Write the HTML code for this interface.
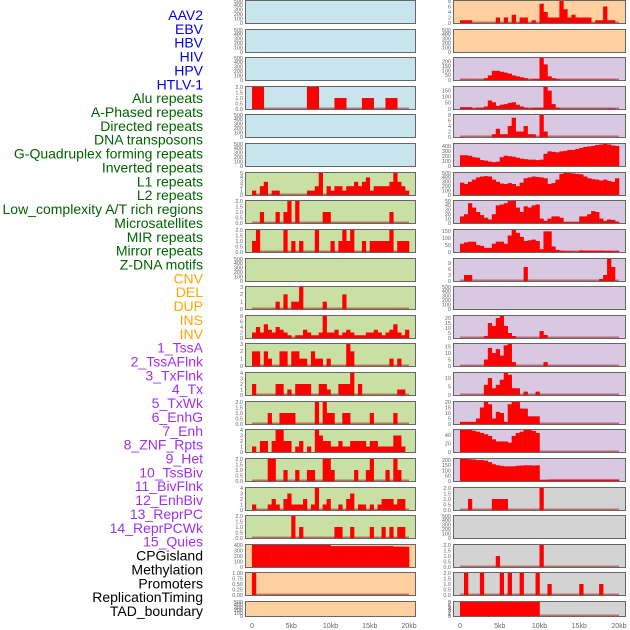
<!DOCTYPE html>
<html><head><meta charset="utf-8"><style>
html,body{margin:0;padding:0;background:#fff;}
svg{display:block;font-family:"Liberation Sans",sans-serif;}
</style></head><body>
<svg id="chart" width="630" height="630" viewBox="0 0 630 630" xmlns="http://www.w3.org/2000/svg"></svg>
<script>
// ---------- DATA ----------
const trackNames = ["AAV2","EBV","HBV","HIV","HPV","HTLV-1","Alu repeats","A-Phased repeats","Directed repeats","DNA transposons","G-Quadruplex forming repeats","Inverted repeats","L1 repeats","L2 repeats","Low_complexity A/T rich regions","Microsatellites","MIR repeats","Mirror repeats","Z-DNA motifs","CNV","DEL","DUP","INS","INV","1_TssA","2_TssAFlnk","3_TxFlnk","4_Tx","5_TxWk","6_EnhG","7_Enh","8_ZNF_Rpts","9_Het","10_TssBiv","11_BivFlnk","12_EnhBiv","13_ReprPC","14_ReprPCWk","15_Quies","CPGisland","Methylation","Promoters","ReplicationTiming","TAD_boundary"];
const trackGroups = ["virus","virus","virus","virus","virus","virus","rep","rep","rep","rep","rep","rep","rep","rep","rep","rep","rep","rep","rep","sv","sv","sv","sv","sv","chr","chr","chr","chr","chr","chr","chr","chr","chr","chr","chr","chr","chr","chr","chr","oth","oth","oth","oth","oth"];
const xTickLabels = ["0","5kb","10kb","15kb","20kb"];
const xTickValues = [0,5,10,15,20];
const empty500 = [0,100,200,300,400,500];
const yTicks = [
 empty500,empty500,empty500,[0,0.5,1,1.5,2],empty500,empty500,
 [0,1,2,3,4,5],[0,0.5,1,1.5,2],[0,0.5,1,1.5,2],empty500,[0,1,2,3],[0,2,4,6,8],[0,1,2,3],[0,1,2,3,4],[0,0.5,1,1.5,2],[0,1,2,3,4],[0,0.5,1,1.5,2],[0,1,2,3,4],[0,0.5,1,1.5,2],
 [0,100,200,300,400],[0,0.25,0.5,0.75,1],empty500,
 [0,2,4,6,8],empty500,[0,50,100,150,200],[0,50,100,150],[0,2,4,6,8],[0,100,200,300,400],[0,100,200,300,400,500],[0,10,20,30,40,50],[0,50,100,150],[0,3,6,9],empty500,[0,5,10,15,20],[0,5,10,15],[0,5,10],[0,5,10,15,20],[0,20,40],[0,50,100,150,200],
 [0,0.5,1,1.5,2],empty500,[0,0.5,1,1.5,2],[0,0.5,1,1.5,2],[0,1,2,3,4,5,6,7,8]
];
// values per 0.5kb bin (bin index: value)
const vHIV = {0:2,1:2,2:2,14:2,15:2,16:2,21:1,22:1,23:1,28:1,29:1,30:1,34:1,35:1,36:1};
const vAlu = [1,0,2,3,0,1,1,0,0,0,0,0,0,0,1,1,2,5,0,2,1,2,2,1,2,2,3,2,3,4,1,2,2,2,2,3,5,3,2,1];
const vAPhased = {2:1,6:1,8:1,9:2,11:2,18:1,19:1,35:1};
const vDirected = {0:1,1:2,8:2,10:1,12:1,16:2,20:1,22:1,23:2,24:1,25:2,28:1,30:1,31:1,32:1,33:1,34:1,35:2,37:1,38:1,39:1};
const vGQuad = {6:1,8:2,10:1,11:1,12:3,18:1,23:2};
const vInverted = [2,4,2,5,3,2,4,3,2,1,0,1,1,3,2,1,1,2,8,2,2,3,1,2,3,2,1,1,1,2,2,3,2,1,2,3,5,2,1,3];
const vL1 = {0:2,1:2,3:2,4:1,7:2,8:2,10:2,11:2,12:1,13:1,15:2,16:1,17:1,19:1,24:3,25:2,35:1,37:1};
const vL2 = {0:2,6:2,7:2,9:1,11:2,12:2,13:2,14:2,17:2,18:2,19:1,22:2,23:2,24:2,25:4,27:2,37:1,38:1};
const vLowComp = {4:1,7:1,8:1,9:1,10:1,16:2,18:2,19:1,20:1,23:1,24:1,30:1,36:1};
const vMicrosat = {0:1,2:2,3:2,5:2,6:4,7:4,8:2,9:2,11:1,12:2,14:1,16:4,17:3,18:2,19:2,20:1,21:1,22:2,23:1,24:1,25:2,26:2,27:2,28:2,29:1,30:2,31:2,32:1,33:1,34:1,35:1,36:3,37:3,38:1};
const vMIR = {4:2,5:2,8:1,11:1,14:1,15:1,18:2,19:2,20:1,26:1,29:1,30:2,34:1,36:2,37:1};
const vMirror = {0:1,4:1,5:2,6:1,8:2,9:3,10:1,11:1,12:1,13:2,15:1,16:4,18:1,19:2,22:1,24:2,25:3,27:1,28:1,30:1,32:1,33:2,34:2,35:2,36:1,37:2,38:2};
const vZDNA = {10:2,12:1,21:1,22:1,25:1,30:1,33:1,35:1,37:1,38:1};
const vCNV = [400,400,400,400,400,400,400,400,400,400,400,400,400,400,400,400,400,400,400,400,380,380,380,380,380,380,380,380,380,380,380,380,380,380,380,380,370,370,370,370];
const vDEL = {0:1};
const vINS = {0:1,1:1,2:1,9:2,11:2,13:3,15:2,16:2,18:1,20:7,21:4,22:2,23:2,24:2,25:8,26:5,27:2,28:3,29:2,30:2,31:2,32:2,34:1,35:1,36:6,37:1,38:1};
const vTssA = {0:3,1:3,2:3,3:3,4:3,5:3,6:20,7:50,8:100,9:100,10:90,11:80,12:70,13:50,14:40,15:30,16:20,17:5,18:10,19:10,20:240,21:170,22:40,23:20,24:10,25:3,26:3,27:3,28:3,29:3,30:3,31:3,32:3,33:3,34:3,35:3,36:3,37:3,38:3};
const vTssAFlnk = {0:15,1:15,2:15,3:5,4:10,5:10,6:20,7:70,8:55,9:25,10:35,11:40,12:50,13:55,14:35,15:20,16:12,17:5,18:10,19:10,20:10,21:180,22:150,23:40,24:10,25:3,26:3,27:3,28:3,29:3,30:3,31:3,32:3,33:3,34:3,35:3,36:3,37:5,38:5};
const vTxFlnk = {8:1,9:3,10:1,11:1,12:4,13:7,14:2,15:2,16:4,17:1,18:1,20:8,21:2};
const vTx = [220,220,210,180,170,120,110,90,80,90,180,210,200,190,170,150,140,130,130,120,130,250,300,290,280,300,310,330,330,350,370,390,400,410,430,440,450,440,420,410];
const vTxWk = [280,250,300,350,400,420,430,420,350,300,260,250,270,250,200,280,380,400,420,410,400,380,250,270,350,480,500,500,490,480,470,420,380,360,350,330,350,320,300,380];
const vEnhG = [15,20,45,35,25,18,12,8,20,40,42,45,50,50,35,25,38,35,40,42,10,5,10,15,15,12,2,2,2,2,15,15,20,27,25,10,5,8,7,3];
const vEnh = [60,70,75,75,50,45,30,30,60,75,75,60,120,160,140,110,80,85,90,80,20,150,150,40,15,10,5,5,3,3,12,10,10,10,10,10,8,8,6,6];
const vZNF = {1:3,2:3,16:7,35:1,36:3,37:11,38:7};
const vTssBiv = {6:2,7:15,8:12,9:20,10:22,11:12,12:5,13:2,20:7,21:3};
const vBivFlnk = {6:5,7:14,8:10,9:13,10:8,11:16,12:17,13:3,21:3};
const vEnhBiv = {6:6,7:10,8:4,9:6,10:9,11:13,12:12,13:4,14:4,16:2,19:2};
const vReprPC = {0:2,1:2,2:2,3:2,4:5,5:15,6:20,7:18,8:5,9:11,10:10,11:2,12:18,13:20,14:20,15:14,16:14,17:7,18:7,19:7};
const vReprPCWk = {0:52,1:52,2:52,3:50,4:48,5:45,6:42,7:38,8:30,9:25,10:25,11:25,12:22,13:38,14:45,15:48,16:52,17:52,18:50,19:45};
const vQuies = [210,210,208,205,200,200,195,180,160,150,145,140,140,140,145,148,150,150,148,150,10,10,15,15,15,15,15,15,15,15,15,15,15,15,15,15,15,15,15,15];
const vCPG = {2:1,8:1,9:1,10:1,11:1,20:2};
const vPromoters = {9:1,20:2};
const vRepTiming = {1:2,5:2,10:2,12:2,15:2,19:2,22:1,30:1,35:1};
const vTAD = {0:8,1:8,2:8,3:8,4:8,5:8,6:8,7:8,8:8,9:8,10:8,11:8,12:8,13:8,14:8,15:8,16:8,17:8,18:8,19:8};
const trackValues = [{},{},{},vHIV,{},{},vAlu,vAPhased,vDirected,{},vGQuad,vInverted,vL1,vL2,vLowComp,vMicrosat,vMIR,vMirror,vZDNA,vCNV,vDEL,{},
 vINS,{},vTssA,vTssAFlnk,vTxFlnk,vTx,vTxWk,vEnhG,vEnh,vZNF,{},vTssBiv,vBivFlnk,vEnhBiv,vReprPC,vReprPCWk,vQuies,vCPG,{},vPromoters,vRepTiming,vTAD];

// ---------- DRAW ----------
const NS="http://www.w3.org/2000/svg";
const svg=document.getElementById('chart');
const groupBg={virus:"#c8e4ec",rep:"#c8e0a4",sv:"#fed0a0",chr:"#d8c8e2",oth:"#d3d3d3"};
const groupText={virus:"#0000ee",rep:"#006400",sv:"#ffa500",chr:"#a030f0",oth:"#000000"};
function mk(tag,attrs,parent){const e=document.createElementNS(NS,tag);for(const k in attrs)e.setAttribute(k,attrs[k]);(parent||svg).appendChild(e);return e;}
function toBins(v){const a=new Array(40).fill(0);if(Array.isArray(v)){v.forEach((x,i)=>a[i]=x);}else{for(const k in v)a[+k]=v[k];}return a;}
const cols=[{left:245,right:416,x0:252,x20:409},{left:453,right:626,x0:460,x20:619}];
function rowTop(r){return r===0?0:Math.round(r*28.62);}
function rowH(r){return r===21?16:24;}

// labels
trackNames.forEach((n,i)=>{
 const t=mk('text',{x:203,y:15+i*13.86+5,'text-anchor':'end','font-size':14,fill:groupText[trackGroups[i]]});
 
 
 t.textContent=n;
});

trackNames.forEach((n,i)=>{
 const c=cols[i<22?0:1], r=i%22;
 const top=rowTop(r), h=rowH(r), bottom=top+h;
 const g=mk('g',{});
 
 
 mk('rect',{x:c.left+0.5,y:top+0.5,width:c.right-c.left-1,height:h-1,fill:groupBg[trackGroups[i]],stroke:"#666",'stroke-width':1},g);
 const bins=toBins(trackValues[i]);
 const ticks=yTicks[i];
 const topVal=Math.max(ticks[ticks.length-1],Math.max(...bins));
 const xs=kb=>c.x0+kb*(c.x20-c.x0)/20;
 const ys=v=>bottom-1-(v/topVal)*(h-2);
 // baseline
 if(i!==0&&i!==1&&i!==2&&i!==4&&i!==5&&i!==9&&i!==15&&i!==21&&i!==23&&i!==32&&i!==40){
  mk('rect',{x:xs(0),y:bottom-2.5,width:xs(20)-xs(0),height:1.5,fill:"rgba(170,30,30,0.55)"},g);
 }
 bins.forEach((v,b)=>{
  if(v<=0)return;
  const y=Math.max(top+1,ys(v));
  const bar=mk('rect',{x:xs(b*0.5),y:y,width:xs(0.5)-xs(0)+0.3,height:bottom-1-y,fill:"#ff0000"},g);
  
  
 });
 ticks.forEach(tv=>{
  const tt=mk('text',{x:c.left-2,y:ys(tv)+1.8,'text-anchor':'end','font-size':5.5,fill:"#666"},g);
  
  
  tt.textContent=(ticks[ticks.length-1]<=2&&tv!==Math.round(tv)||ticks[ticks.length-1]===2)?(ticks[ticks.length-1]===1?tv.toFixed(2):tv.toFixed(1)):(ticks[ticks.length-1]===1?tv.toFixed(2):String(tv));
 });
});

// x axes
cols.forEach((c,ci)=>{
 xTickValues.forEach((kv,k)=>{
  const t=mk('text',{x:c.x0+kv*(c.x20-c.x0)/20,y:628,'text-anchor':'middle','font-size':7,fill:"#666"});
  
  
  t.textContent=xTickLabels[k];
 });
});
</script>
</body></html>
